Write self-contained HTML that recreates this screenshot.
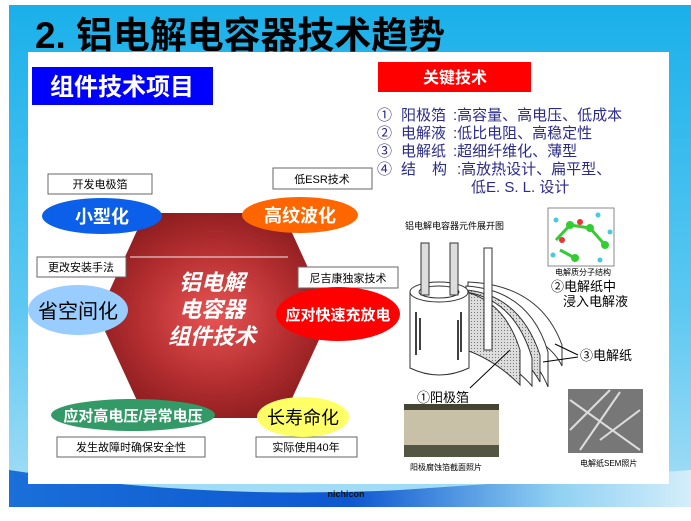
<!DOCTYPE html>
<html><head><meta charset="utf-8">
<style>
html,body{margin:0;padding:0;background:#fff;}
svg{display:block;}
text{font-family:"Liberation Sans","Noto Sans CJK SC",sans-serif;}
</style></head><body>
<svg width="691" height="521" viewBox="0 0 691 521" xmlns="http://www.w3.org/2000/svg">
<defs>
<linearGradient id="bg" x1="0" y1="0" x2="0" y2="1">
<stop offset="0" stop-color="#1ab0ea"/><stop offset="0.6" stop-color="#5cc8f2"/><stop offset="1" stop-color="#a8def6"/>
</linearGradient>
<linearGradient id="bot" x1="0" y1="0" x2="1" y2="0">
<stop offset="0" stop-color="#1a6fd8"/><stop offset="0.5" stop-color="#0d57d0"/><stop offset="0.8" stop-color="#8fd0f2"/><stop offset="1" stop-color="#d4eefa"/>
</linearGradient>
<radialGradient id="hex" cx="0.5" cy="0.5" r="0.55">
<stop offset="0" stop-color="#e85454"/><stop offset="0.6" stop-color="#b42e30"/><stop offset="1" stop-color="#8a1c1e"/>
</radialGradient>
<pattern id="dots" width="3" height="3" patternUnits="userSpaceOnUse"><rect width="3" height="3" fill="#ddd"/><rect width="1" height="1" fill="#777"/></pattern>
</defs>
<rect width="691" height="521" fill="#fff"/>
<rect x="9" y="5" width="682" height="502" fill="url(#bg)"/>
<path d="M9 470 Q200 500 400 490 Q550 480 691 470 L691 507 L9 507 Z" fill="url(#bot)"/>
<text x="35" y="48" font-size="37" fill="#000" font-weight="bold" textLength="410" lengthAdjust="spacingAndGlyphs">2. 铝电解电容器技术趋势</text>
<rect x="28" y="52" width="641" height="432" fill="#fff"/>
<rect x="32" y="67" width="181" height="38" fill="#0000ff"/>
<text x="122" y="95" font-size="24" fill="#fff" text-anchor="middle" font-weight="bold">组件技术项目</text>
<rect x="378" y="62" width="153" height="30" fill="#ff0000"/>
<text x="455" y="83" font-size="16" fill="#fff" text-anchor="middle" font-weight="bold">关键技术</text>
<g font-size="15" fill="#2b2b8c">
<text x="377" y="120">①</text><text x="401" y="120">阳极箔</text><text x="453" y="120">:高容量、高电压、低成本</text>
<text x="377" y="138">②</text><text x="401" y="138">电解液</text><text x="453" y="138">:低比电阻、高稳定性</text>
<text x="377" y="156">③</text><text x="401" y="156">电解纸</text><text x="453" y="156">:超细纤维化、薄型</text>
<text x="377" y="174">④</text><text x="401" y="174">结</text><text x="432" y="174">构</text><text x="457" y="174">:高放热设计、扁平型、</text>
<text x="471" y="192">低E. S. L. 设计</text>
</g>
<polygon points="145,213 283,213 330,316 283,418 145,418 98,316" fill="url(#hex)"/>
<line x1="130" y1="257" x2="288" y2="257" stroke="#eee" stroke-width="1"/>
<g font-size="22" fill="#fff" font-style="italic" font-weight="bold" text-anchor="middle">
<text x="212" y="290">铝电解</text><text x="212" y="317">电容器</text><text x="212" y="344">组件技术</text>
</g>
<g fill="#fff" stroke="#666" stroke-width="1">
<rect x="48" y="174" width="104" height="20"/><rect x="273" y="168" width="99" height="21"/>
<rect x="37" y="257" width="89" height="20"/><rect x="298" y="267" width="100" height="21"/>
<rect x="57" y="437" width="148" height="20"/><rect x="256" y="437" width="101" height="20"/>
</g>
<g font-size="11" fill="#000" text-anchor="middle">
<text x="100" y="188">开发电极箔</text><text x="322" y="183">低ESR技术</text>
<text x="81" y="271">更改安装手法</text><text x="348" y="282">尼吉康独家技术</text>
<text x="131" y="451">发生故障时确保安全性</text><text x="306" y="451">实际使用40年</text>
</g>
<ellipse cx="102" cy="216" rx="60" ry="18" fill="#0b5fe8"/>
<text x="102" y="223" font-size="18" fill="#fff" text-anchor="middle" font-weight="bold">小型化</text>
<ellipse cx="300" cy="215" rx="58" ry="18" fill="#ff6600"/>
<text x="300" y="222" font-size="18" fill="#fff" text-anchor="middle" font-weight="bold">高纹波化</text>
<ellipse cx="78" cy="310" rx="50" ry="25" fill="#99ccff"/>
<text x="78" y="318" font-size="20" fill="#000" text-anchor="middle">省空间化</text>
<ellipse cx="338" cy="314" rx="62" ry="27" fill="#ff0000"/>
<text x="338" y="320" font-size="15" fill="#fff" text-anchor="middle" font-weight="bold">应对快速充放电</text>
<ellipse cx="133" cy="415" rx="82" ry="16" fill="#339966"/>
<text x="133" y="421" font-size="15" fill="#fff" text-anchor="middle" font-weight="bold">应对高电压/异常电压</text>
<ellipse cx="303" cy="417" rx="46" ry="20" fill="#ffff66"/>
<text x="303" y="424" font-size="18" fill="#000" text-anchor="middle">长寿命化</text>
<text x="405" y="229" font-size="9" fill="#000">铝电解电容器元件展开图</text>
<rect x="548" y="208" width="66" height="58" fill="#fff" stroke="#888"/>
<g stroke="#3c3" stroke-width="3"><line x1="556" y1="240" x2="570" y2="225"/><line x1="570" y1="225" x2="590" y2="228"/><line x1="590" y1="228" x2="605" y2="245"/><line x1="560" y1="250" x2="575" y2="258"/></g>
<g fill="#3c3"><circle cx="570" cy="225" r="4"/><circle cx="590" cy="228" r="4"/><circle cx="605" cy="245" r="4"/><circle cx="575" cy="258" r="4"/></g>
<g fill="#e33"><circle cx="580" cy="222" r="3"/><circle cx="562" cy="240" r="3"/></g>
<g fill="#4cd"><circle cx="556" cy="220" r="2.5"/><circle cx="598" cy="215" r="2.5"/><circle cx="610" cy="232" r="2.5"/><circle cx="553" cy="255" r="2.5"/><circle cx="600" cy="260" r="2.5"/></g>
<text x="555" y="275" font-size="8" fill="#000">电解质分子结构</text>
<text x="551" y="291" font-size="13" fill="#000">②电解纸中</text>
<text x="563" y="306" font-size="13" fill="#000">浸入电解液</text>
<path d="M468 282 Q540 285 562 345 L562 366 Q545 330 468 318 Z" fill="#fff" stroke="#333"/>
<path d="M466 286 Q530 290 548 352 L548 387 Q530 340 466 330 Z" fill="#fff" stroke="#333"/>
<path d="M466 290 Q520 295 540 355 L540 382 Q520 345 466 335 Z" fill="url(#dots)" stroke="#333"/>
<path d="M466 292 Q515 300 532 358 L532 386 Q510 360 466 345 Z" fill="#fff" stroke="#333"/>
<path d="M466 292 Q505 302 520 350 L520 385 Q495 360 466 350 Z" fill="url(#dots)" stroke="#333"/>
<rect x="484" y="248" width="8" height="102" fill="#fff" stroke="#333"/>
<path d="M410 292 L410 368 Q439 382 469 368 L469 292 Z" fill="#fff" stroke="#333"/>
<ellipse cx="439" cy="292" rx="29" ry="10" fill="#fff" stroke="#333"/>
<ellipse cx="439" cy="292" rx="20" ry="6" fill="none" stroke="#333"/>
<rect x="421" y="243" width="8" height="52" fill="#ddd" stroke="#333"/>
<rect x="450" y="243" width="8" height="52" fill="#ddd" stroke="#333"/>
<g stroke="#000" stroke-width="1.5"><line x1="416" y1="312" x2="416" y2="355"/><line x1="420" y1="318" x2="420" y2="350"/><line x1="458" y1="320" x2="458" y2="360"/><line x1="461" y1="312" x2="461" y2="352"/></g>
<line x1="470" y1="388" x2="510" y2="350" stroke="#000"/>
<line x1="578" y1="355" x2="555" y2="344" stroke="#000"/>
<line x1="578" y1="357" x2="543" y2="362" stroke="#000"/>
<text x="580" y="360" font-size="13" fill="#000">③电解纸</text>
<text x="417" y="402" font-size="13" fill="#000">①阳极箔</text>
<rect x="404" y="404" width="95" height="53" fill="#c9c0a8"/>
<rect x="404" y="445" width="95" height="12" fill="#554"/>
<rect x="404" y="404" width="95" height="6" fill="#443"/>
<text x="410" y="470" font-size="8" fill="#000">阳极腐蚀箔截面照片</text>
<rect x="568" y="389" width="75" height="64" fill="#777"/>
<g stroke="#ddd" stroke-width="2"><line x1="570" y1="400" x2="640" y2="450"/><line x1="580" y1="450" x2="620" y2="392"/><line x1="600" y1="440" x2="640" y2="410"/><line x1="570" y1="430" x2="610" y2="390"/></g>
<text x="580" y="466" font-size="8" fill="#000">电解纸SEM照片</text>
<text x="346" y="497" font-size="9" fill="#111" text-anchor="middle" font-weight="bold" font-family="Liberation Serif,serif">nichicon</text>
</svg>
</body></html>
